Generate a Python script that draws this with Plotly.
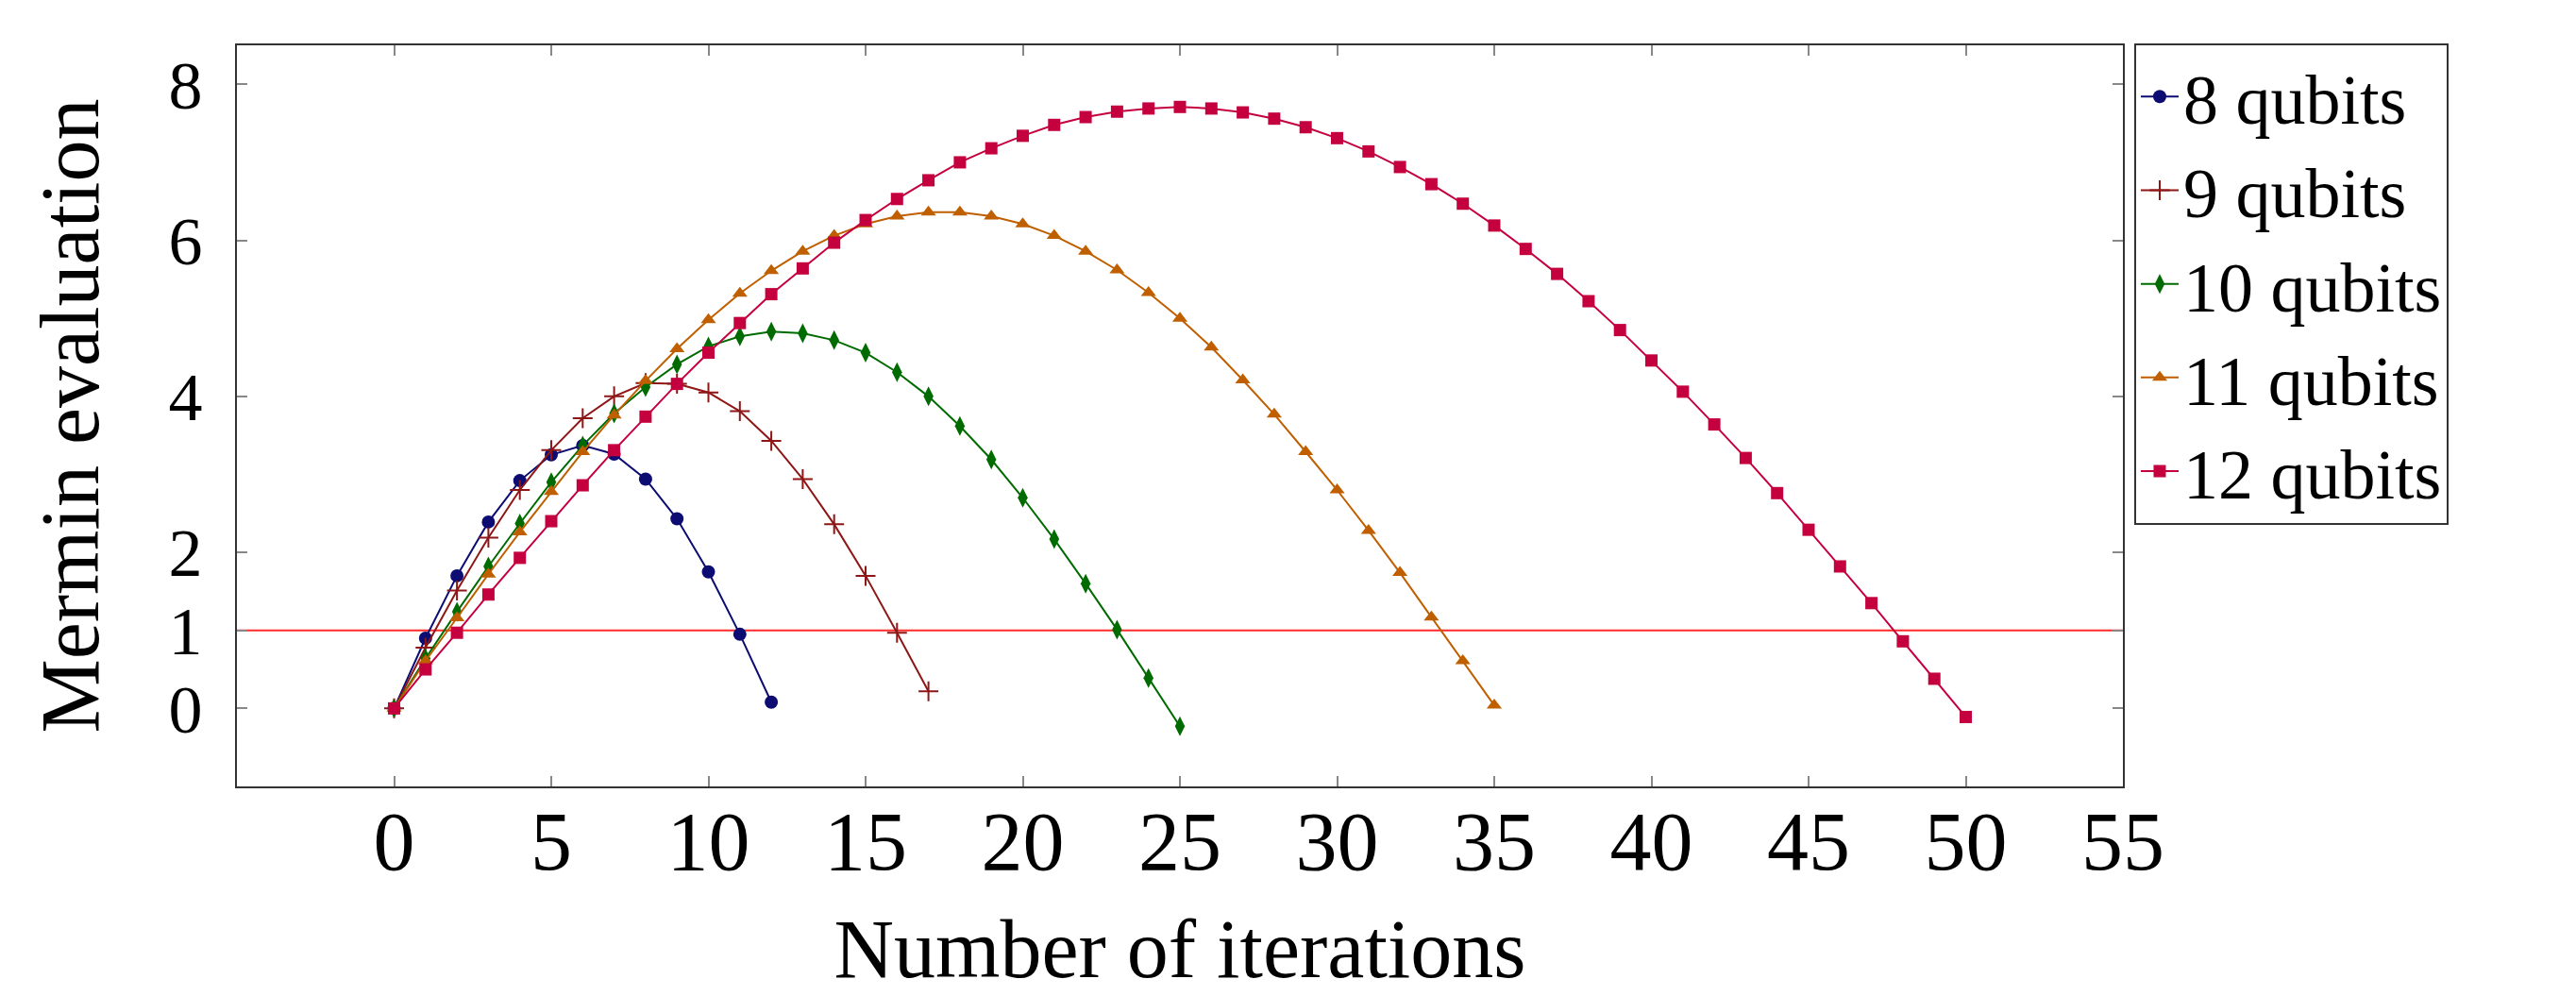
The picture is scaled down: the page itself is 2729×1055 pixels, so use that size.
import plotly.graph_objects as go

# ---------------- data ----------------
iters_8 = list(range(0, 13))
mermin_8 = [0.0, 0.90, 1.70, 2.39, 2.92, 3.25, 3.37, 3.26, 2.94, 2.43, 1.75, 0.95, 0.08]

iters_9 = list(range(0, 18))
mermin_9 = [0.0, 0.78, 1.51, 2.19, 2.80, 3.31, 3.72, 4.00, 4.17, 4.16, 4.05, 3.81,
            3.43, 2.94, 2.36, 1.70, 0.97, 0.22]

iters_10 = list(range(0, 26))
mermin_10 = [0.0, 0.64, 1.24, 1.82, 2.37, 2.90, 3.37, 3.78, 4.12, 4.41, 4.64, 4.77,
             4.83, 4.81, 4.72, 4.56, 4.31, 4.00, 3.62, 3.19, 2.70, 2.17, 1.60, 1.01,
             0.39, -0.23]

iters_11 = list(range(0, 36))
mermin_11 = [0.0, 0.61, 1.16, 1.72, 2.26, 2.78, 3.29, 3.76, 4.20, 4.61, 4.98, 5.32,
             5.61, 5.86, 6.06, 6.21, 6.31, 6.36, 6.36, 6.31, 6.21, 6.06, 5.86, 5.62,
             5.33, 5.00, 4.63, 4.21, 3.77, 3.29, 2.80, 2.28, 1.74, 1.17, 0.61, 0.04]

iters_12 = list(range(0, 51))
mermin_12 = [0.0, 0.50, 0.97, 1.46, 1.93, 2.40, 2.86, 3.31, 3.74, 4.16, 4.56, 4.94,
             5.31, 5.64, 5.97, 6.26, 6.53, 6.77, 7.00, 7.18, 7.34, 7.48, 7.58, 7.65,
             7.69, 7.71, 7.69, 7.64, 7.56, 7.45, 7.31, 7.14, 6.94, 6.72, 6.47, 6.19,
             5.89, 5.57, 5.22, 4.85, 4.46, 4.06, 3.64, 3.21, 2.76, 2.29, 1.82, 1.35,
             0.86, 0.38, -0.11]

series_names = ["8 qubits", "9 qubits", "10 qubits", "11 qubits", "12 qubits"]
threshold = 1

x_tick_vals = [0, 5, 10, 15, 20, 25, 30, 35, 40, 45, 50, 55]
y_tick_vals = [0, 1, 2, 4, 6, 8]

x_label = "Number of iterations"
y_label = "Mermin evaluation"

# ---------------- styles ----------------
FONT = "Liberation Serif"
FS = 88
Y_TICK_FS = 72
LEG_FS = 74
colors = ["#0c0c72", "#8e1616", "#006b00", "#bf5f00", "#c5003f"]
symbols = ["circle", "cross-thin", "diamond-tall", "triangle-up", "square"]
sizes = [14, 15, 15, 14, 13]

xs = [iters_8, iters_9, iters_10, iters_11, iters_12]
ys = [mermin_8, mermin_9, mermin_10, mermin_11, mermin_12]

fig = go.Figure()
for name, x, y, c, s, sz in zip(series_names, xs, ys, colors, symbols, sizes):
    marker = dict(symbol=s, size=sz, color=c)
    if s == "cross-thin":
        marker["line"] = dict(color=c, width=2)
    else:
        marker["line"] = dict(width=0)
    fig.add_trace(go.Scatter(x=x, y=y, mode="lines+markers", name=name,
                             line=dict(color=c, width=2), marker=marker))

fig.add_shape(type="line", xref="paper", yref="y", x0=0, x1=1,
              y0=threshold, y1=threshold, line=dict(color="#ff2a2a", width=2),
              layer="below")

axis_common = dict(
    showline=True, linecolor="#333333", linewidth=2, mirror="ticks",
    ticks="inside", ticklen=11, tickwidth=2, tickcolor="#888888",
    showgrid=False, zeroline=False,
)

fig.update_layout(
    width=2729, height=1055,
    margin=dict(l=243, r=488, t=40, b=230),
    paper_bgcolor="white", plot_bgcolor="white",
    font=dict(family=FONT, size=FS, color="black"),
    xaxis=dict(range=[-5, 55], tickvals=x_tick_vals, ticklabelstandoff=-20,
               tickfont=dict(family=FONT, size=FS, color="black"),
               title=dict(text=x_label, font=dict(family=FONT, size=FS), standoff=35),
               automargin=False, **axis_common),
    yaxis=dict(range=[-1, 8.5], tickvals=y_tick_vals, ticklabelstandoff=20,
               tickfont=dict(family=FONT, size=Y_TICK_FS, color="black"),
               title=dict(text=y_label, font=dict(family=FONT, size=FS), standoff=45),
               automargin=False, **axis_common),
    legend=dict(x=1.006, y=1.003, xanchor="left", yanchor="top",
                bordercolor="#333333", borderwidth=2, bgcolor="white",
                font=dict(family=FONT, size=LEG_FS), tracegroupgap=0,
                itemwidth=40),
    showlegend=True,
)

fig.write_html("out.html")
